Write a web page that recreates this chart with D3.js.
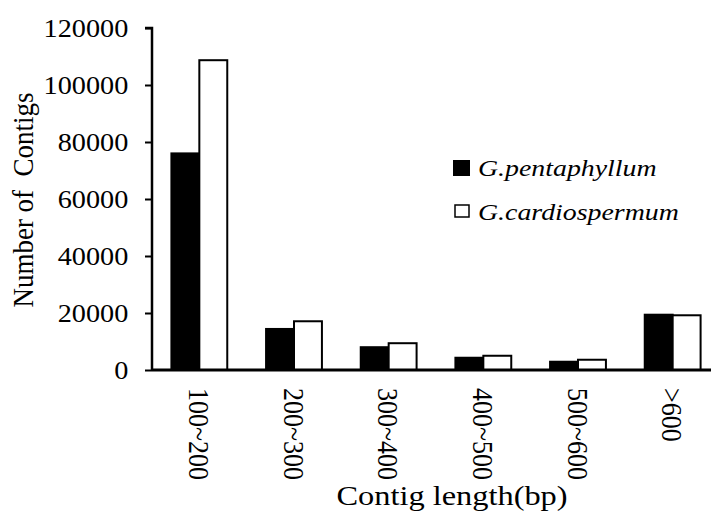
<!DOCTYPE html>
<html>
<head>
<meta charset="utf-8">
<script src="https://cdn.jsdelivr.net/npm/d3@7/dist/d3.min.js"></script>
<style>
  body { margin: 0; background: #fff; }
  svg { display: block; font-family: "Liberation Serif", "Times New Roman", serif; }
</style>
</head>
<body>
<div id="chart"></div>
<script>
// contig length distribution
const categories = ["100~200", "200~300", "300~400", "400~500", "500~600", ">600"];
const seriesNames = ["G.pentaphyllum", "G.cardiospermum"];
const pentaphyllum = [76000, 14400, 8000, 4300, 2900, 19400];
const cardiospermum = [108700, 17100, 9400, 5000, 3600, 19200];
const yTicks = [0, 20000, 40000, 60000, 80000, 100000, 120000];

(function () {
  const W = 711, H = 511;
  const sx = 1.13; // source picture is a little stretched sideways

  const svg = d3.select("#chart").append("svg")
    .attr("width", W)
    .attr("height", H);

  const rows = categories.map((c, i) => ({
    cat: c,
    vals: [
      { key: seriesNames[0], v: pentaphyllum[i] },
      { key: seriesNames[1], v: cardiospermum[i] }
    ]
  }));

  const x0 = d3.scaleBand()
    .domain(categories)
    .range([152, 720])
    .paddingInner(0.41)
    .paddingOuter(0.205);

  const x1 = d3.scaleBand()
    .domain(seriesNames)
    .range([0, x0.bandwidth()]);

  const y = d3.scaleLinear()
    .domain([0, 120000])
    .range([370, 28]);

  const fill = d3.scaleOrdinal().domain(seriesNames).range(["#000", "#fff"]);

  // Bars
  svg.append("g")
    .selectAll("g")
    .data(rows)
    .join("g")
    .attr("transform", d => `translate(${x0(d.cat)},0)`)
    .selectAll("rect")
    .data(d => d.vals)
    .join("rect")
    .attr("x", d => x1(d.key))
    .attr("y", d => y(d.v))
    .attr("width", x1.bandwidth())
    .attr("height", d => y(0) - y(d.v))
    .attr("fill", d => fill(d.key))
    .attr("stroke", "#000")
    .attr("stroke-width", 2);

  // Y axis
  const yAxis = svg.append("g")
    .attr("transform", "translate(152,0)")
    .call(d3.axisLeft(y).tickValues(yTicks).tickSize(7).tickPadding(14).tickFormat(d3.format("d")));
  yAxis.select(".domain").attr("stroke-width", 2.5).attr("d", `M-7,${y(120000)}H0V${y(0)}`);
  yAxis.selectAll(".tick line").attr("stroke-width", 2);
  yAxis.selectAll(".tick text")
    .style("font-size", "25px")
    .style("font-family", "Liberation Serif")
    .attr("fill", "#000")
    .attr("transform", `scale(${sx},1)`);

  // X axis (baseline only)
  svg.append("line")
    .attr("x1", 152).attr("x2", 720)
    .attr("y1", y(0)).attr("y2", y(0))
    .attr("stroke", "#000")
    .attr("stroke-width", 3);

  // Category labels, rotated
  svg.append("g")
    .selectAll("text")
    .data(categories)
    .join("text")
    .attr("transform", d => `translate(${x0(d) + x0.bandwidth() / 2},388) scale(${sx},1) rotate(90)`)
    .attr("dy", "0.35em")
    .attr("text-anchor", "start")
    .style("font-size", "26px")
    .text(d => d);

  // Axis titles
  svg.append("text")
    .attr("transform", `translate(452,505) scale(1.2,1)`)
    .attr("text-anchor", "middle")
    .style("font-size", "27px")
    .text("Contig length(bp)");

  svg.append("text")
    .attr("transform", `translate(33,200) scale(${sx},1) rotate(-90)`)
    .attr("text-anchor", "middle")
    .style("font-size", "27px")
    .style("white-space", "pre")
    .text("Number of  Contigs");

  // Legend
  const legend = svg.append("g").attr("transform", "translate(453,0)");
  legend.append("rect")
    .attr("x", 0).attr("y", 160).attr("width", 17).attr("height", 16)
    .attr("fill", "#000");
  legend.append("rect")
    .attr("x", 2).attr("y", 205).attr("width", 14).attr("height", 12)
    .attr("fill", "#fff").attr("stroke", "#000").attr("stroke-width", 1.5);
  legend.selectAll(".lab")
    .data(seriesNames)
    .join("text")
    .attr("class", "lab")
    .attr("transform", (d, i) => `translate(25,${176 + i * 44}) scale(1.16,1)`)
    .style("font-size", "24px")
    .style("font-style", "italic")
    .text(d => d);
})();
</script>
</body>
</html>
